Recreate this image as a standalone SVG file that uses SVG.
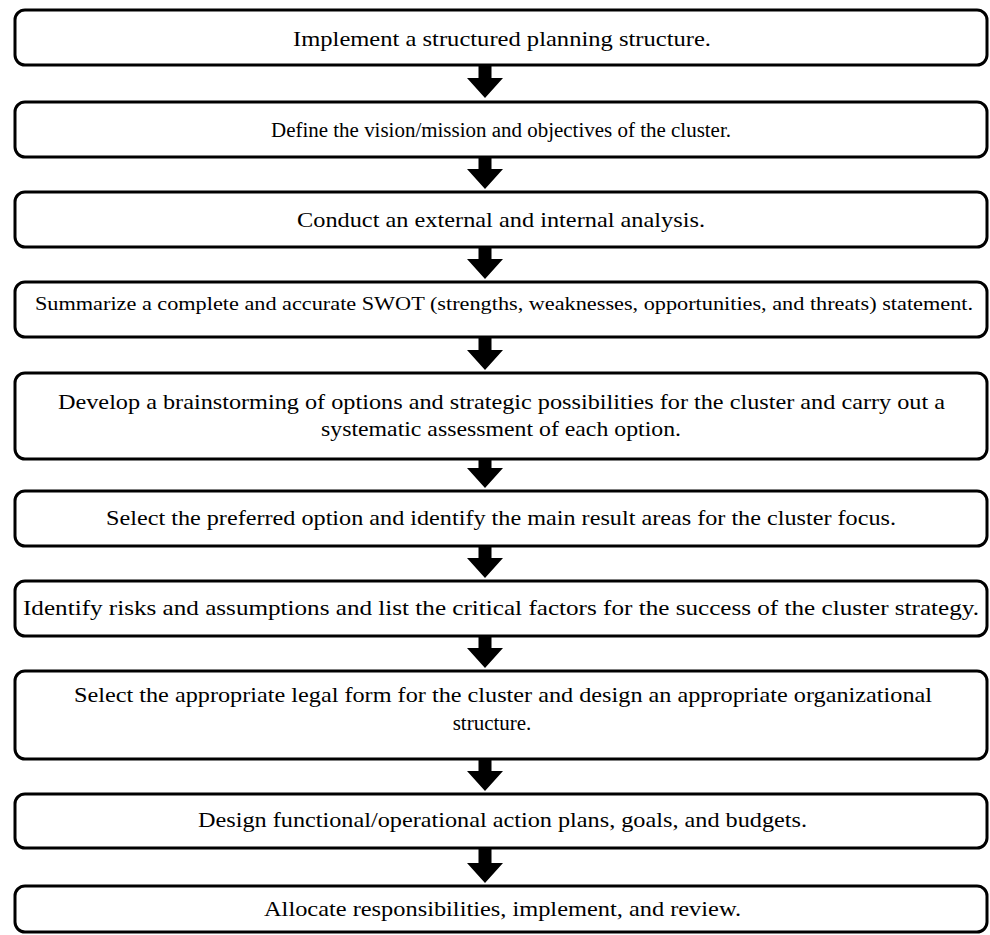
<svg xmlns="http://www.w3.org/2000/svg" width="990" height="935" viewBox="0 0 990 935">
<style>
.box{fill:#fff;stroke:#000;stroke-width:3}
.t{font-family:"Liberation Serif","Times New Roman",serif;font-size:21px;fill:#000;text-anchor:middle}
.s{font-size:19px}
.m{font-size:20px}
.arr{fill:#000;stroke:none}
</style>
<rect width="990" height="935" fill="#fff"/>
<g id="connectors">
<path class="arr" d="M478.5 66H491.5V78H503L485 98L467 78H478.5Z"/>
<path class="arr" d="M478.5 158H491.5V169H503L485 189L467 169H478.5Z"/>
<path class="arr" d="M478.5 248H491.5V259H503L485 279L467 259H478.5Z"/>
<path class="arr" d="M478.5 338H491.5V350H503L485 370L467 350H478.5Z"/>
<path class="arr" d="M478.5 460H491.5V468H503L485 488L467 468H478.5Z"/>
<path class="arr" d="M478.5 547H491.5V558H503L485 578L467 558H478.5Z"/>
<path class="arr" d="M478.5 637H491.5V648H503L485 668L467 648H478.5Z"/>
<path class="arr" d="M478.5 760H491.5V771H503L485 791L467 771H478.5Z"/>
<path class="arr" d="M478.5 849H491.5V863H503L485 883L467 863H478.5Z"/>
</g>
<g id="n1"><rect class="box" x="15" y="10" width="972" height="55" rx="10"/>
<text class="t" x="502" y="46" textLength="418" lengthAdjust="spacingAndGlyphs">Implement a structured planning structure.</text></g>
<g id="n2"><rect class="box" x="15" y="102" width="972" height="55" rx="10"/>
<text class="t m" x="501" y="137" textLength="460" lengthAdjust="spacingAndGlyphs">Define the vision/mission and objectives of the cluster.</text></g>
<g id="n3"><rect class="box" x="15" y="192" width="972" height="55" rx="10"/>
<text class="t" x="501" y="227" textLength="408" lengthAdjust="spacingAndGlyphs">Conduct an external and internal analysis.</text></g>
<g id="n4"><rect class="box" x="15" y="282" width="972" height="55" rx="10"/>
<text class="t s" x="504" y="310" textLength="938" lengthAdjust="spacingAndGlyphs">Summarize a complete and accurate SWOT (strengths, weaknesses, opportunities, and threats) statement.</text></g>
<g id="n5"><rect class="box" x="15" y="373" width="972" height="86" rx="10"/>
<text class="t" x="501.5" y="409" textLength="887" lengthAdjust="spacingAndGlyphs">Develop a brainstorming of options and strategic possibilities for the cluster and carry out a</text>
<text class="t" x="501" y="436" textLength="360" lengthAdjust="spacingAndGlyphs">systematic assessment of each option.</text></g>
<g id="n6"><rect class="box" x="15" y="491" width="972" height="55" rx="10"/>
<text class="t" x="501" y="525" textLength="790" lengthAdjust="spacingAndGlyphs">Select the preferred option and identify the main result areas for the cluster focus.</text></g>
<g id="n7"><rect class="box" x="15" y="581" width="972" height="55" rx="10"/>
<text class="t" x="501" y="615" textLength="956" lengthAdjust="spacingAndGlyphs">Identify risks and assumptions and list the critical factors for the success of the cluster strategy.</text></g>
<g id="n8"><rect class="box" x="15" y="671" width="972" height="88" rx="10"/>
<text class="t" x="503" y="702" textLength="858" lengthAdjust="spacingAndGlyphs">Select the appropriate legal form for the cluster and design an appropriate organizational</text>
<text class="t" x="492" y="730">structure.</text></g>
<g id="n9"><rect class="box" x="15" y="794" width="972" height="54" rx="10"/>
<text class="t" x="502.5" y="827" textLength="609" lengthAdjust="spacingAndGlyphs">Design functional/operational action plans, goals, and budgets.</text></g>
<g id="n10"><rect class="box" x="15" y="886" width="972" height="46" rx="10"/>
<text class="t" x="502.5" y="916" textLength="477" lengthAdjust="spacingAndGlyphs">Allocate responsibilities, implement, and review.</text></g>
</svg>
